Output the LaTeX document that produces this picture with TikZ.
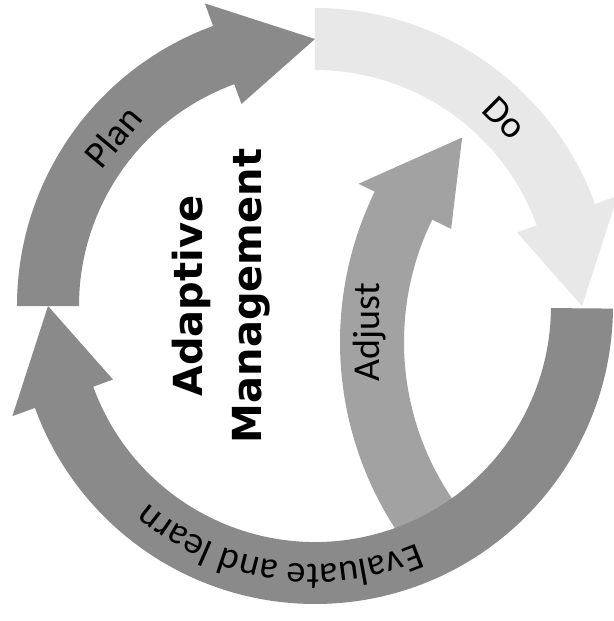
\documentclass[tikz,border=0pt]{standalone}
\usepackage{fontspec}
\setmainfont{Carlito}
\newfontfamily\centerfont{DejaVu Sans}
\usetikzlibrary{decorations.text}
\definecolor{ringgray}{HTML}{8A8A8A}
\definecolor{adjgray}{HTML}{A2A2A2}
\definecolor{dogray}{HTML}{E8E8E8}
\tikzset{
  lbl/.style={font=\fontsize{38}{44}\selectfont, inner sep=0pt},
  title/.style={font=\centerfont\bfseries\fontsize{40}{59}\selectfont, align=center, inner sep=0pt}
}
\begin{document}
\begin{tikzpicture}[x=1pt,y=1pt]
\useasboundingbox (-315,-315) rectangle (298,306);
\fill[white] (-315,-315) rectangle (298,306);
% Do arrow (faint)
\fill[dogray] (90:298) arc[start angle=90,end angle=20,radius=298] -- (20:322) -- (0:267) -- (20:215) -- (20:236) arc[start angle=20,end angle=90,radius=236] -- cycle;
% Adjust arrow
\begin{scope}[shift={(368,-36)}]
\fill[adjgray] (215:343) arc[start angle=215,end angle=154,radius=343] -- (154:361) -- (137.2:301) -- (154:258) -- (154:279) arc[start angle=154,end angle=215,radius=279] -- cycle;
\end{scope}
% Plan arrow
\fill[ringgray] (180:298) arc[start angle=180,end angle=110,radius=298] -- (110:322) -- (90:267) -- (110:215) -- (110:236) arc[start angle=110,end angle=180,radius=236] -- cycle;
% Evaluate arrow
\fill[ringgray] (-0.5:298) arc[start angle=-0.5,end angle=-160,radius=298] -- (-160:322) -- (-180:267) -- (-160:215) -- (-160:236) arc[start angle=-160,end angle=-0.5,radius=236] -- cycle;
% labels
\node[lbl, rotate=50] (plan) at (140:264) {Plan};
\node[lbl, rotate=-45] (do) at (44.7:267) {Do};
\node[lbl, rotate=90] (adjust) at (55,-26) {Adjust};
\node[title, rotate=90] (am) at (-94,10) {Adaptive\\Management};
\path[decorate, decoration={text along path, text align=center,
  text={|\fontsize{38}{44}\selectfont|Evaluate and learn}}]
  (-58.5:258) arc[start angle=-58.5,end angle=-138.5,radius=258];
\end{tikzpicture}
\end{document}
